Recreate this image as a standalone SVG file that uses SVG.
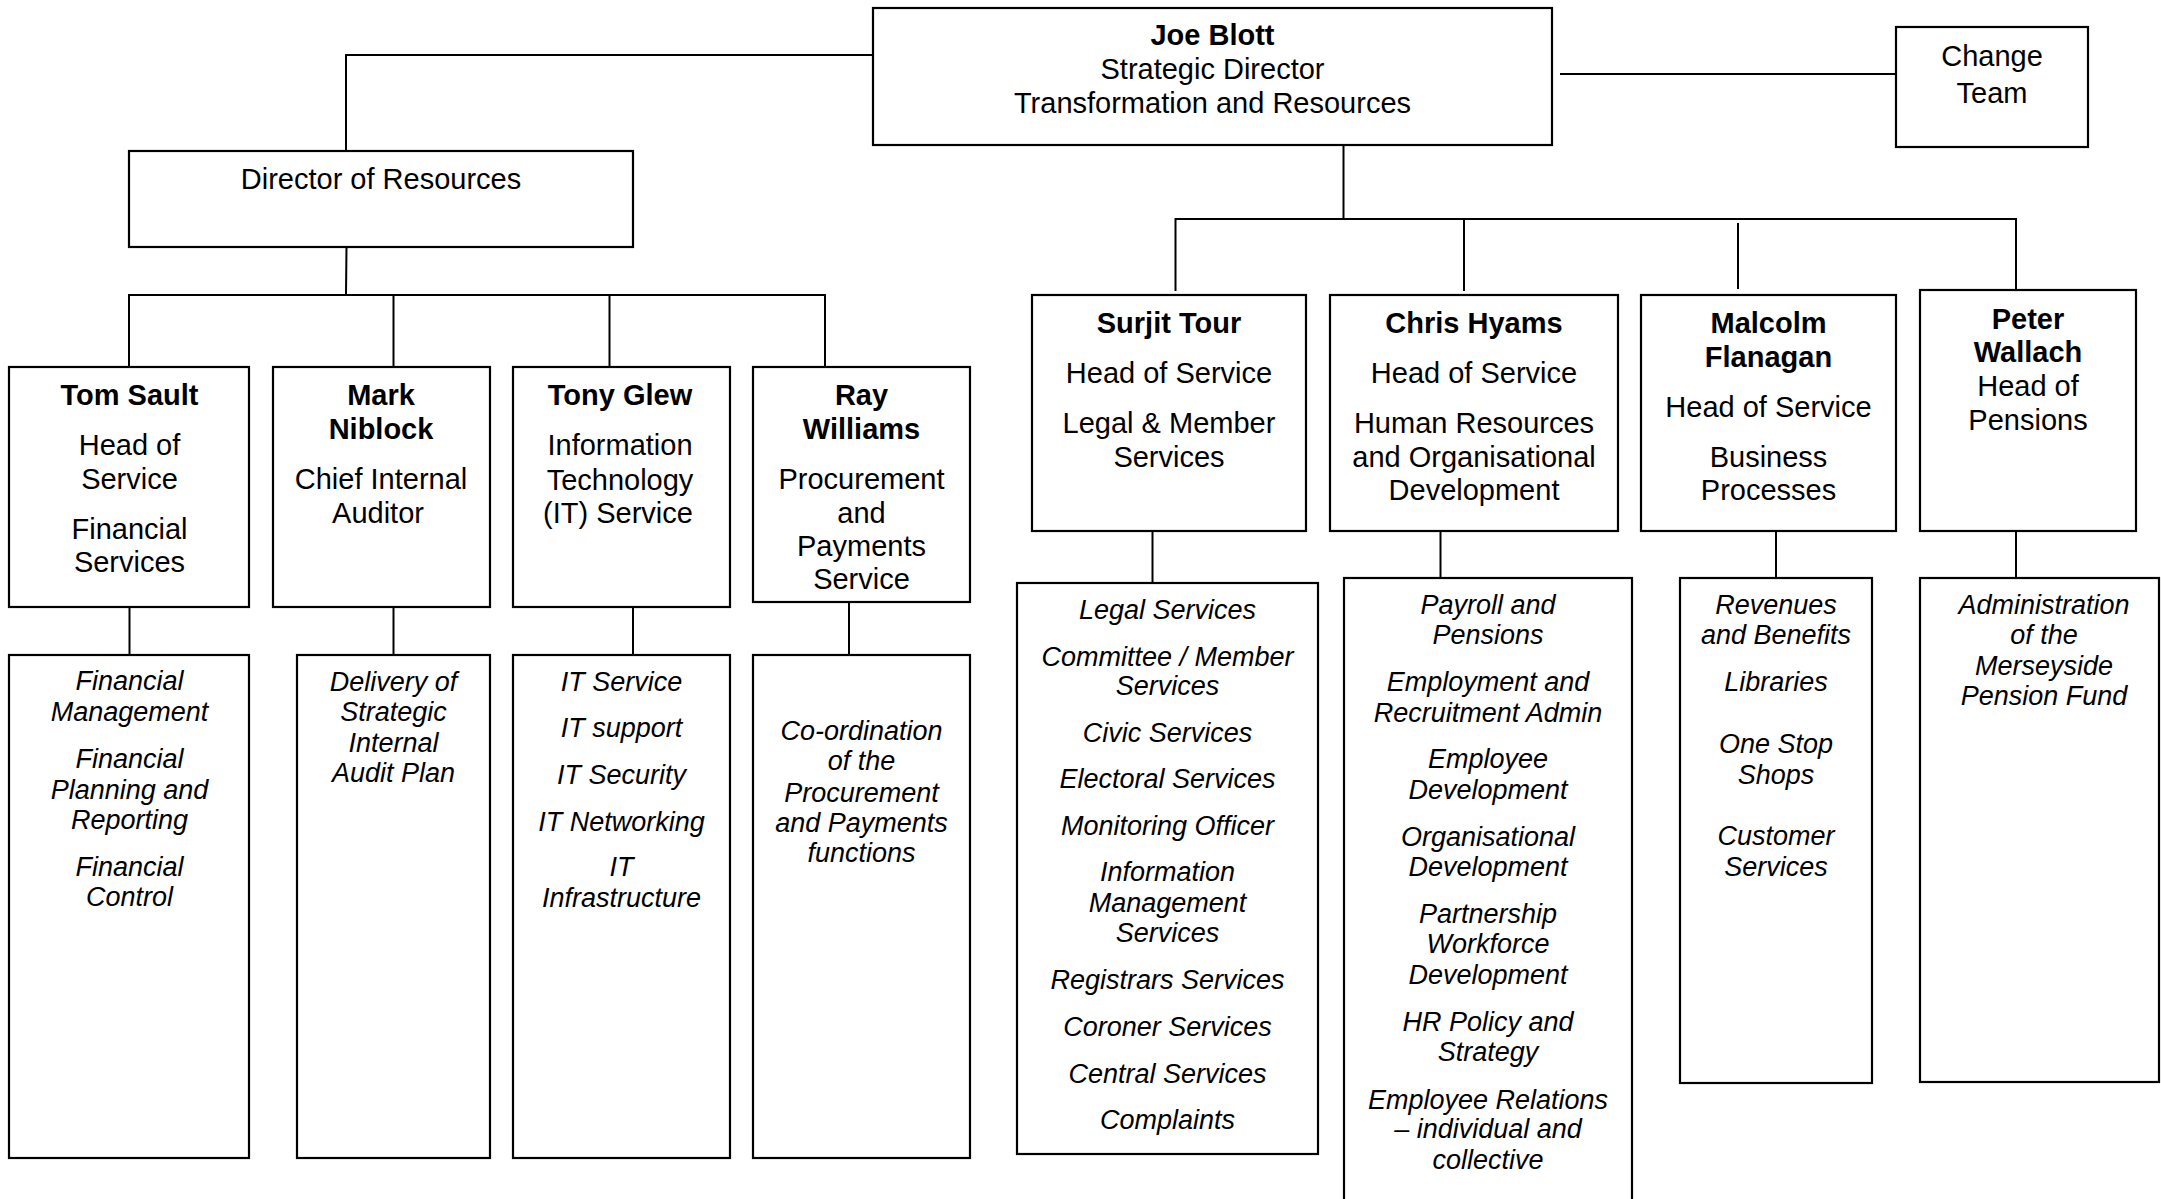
<svg xmlns="http://www.w3.org/2000/svg" width="2161" height="1199" viewBox="0 0 2161 1199">
<style>
.box{fill:#fff;stroke:#000;stroke-width:2.2}
.ln{fill:none;stroke:#000;stroke-width:2}
text{font-family:"Liberation Sans",Arial,sans-serif;font-size:29px;text-anchor:middle;fill:#000}
.b{font-weight:bold}
.i{font-style:italic;font-size:27px}
</style>
<rect width="2161" height="1199" fill="#fff"/>
<g id="connectors">
<polyline class="ln" points="873,55 346,55 346,151"/>
<line class="ln" x1="1560" y1="74" x2="1896" y2="74"/>
<line class="ln" x1="346.5" y1="247" x2="346" y2="295"/>
<polyline class="ln" points="129,367 129,295 825,295 825,367"/>
<line class="ln" x1="393.5" y1="295" x2="393.5" y2="367"/>
<line class="ln" x1="609.5" y1="295" x2="609.5" y2="367"/>
<line class="ln" x1="1343.5" y1="146" x2="1343.5" y2="219"/>
<polyline class="ln" points="1175.5,291 1175.5,219 2016,219 2016,290"/>
<line class="ln" x1="1464" y1="219" x2="1464" y2="291"/>
<line class="ln" x1="1738" y1="223" x2="1738" y2="289"/>
<line class="ln" x1="129.5" y1="607" x2="129.5" y2="655"/>
<line class="ln" x1="393.5" y1="607" x2="393.5" y2="655"/>
<line class="ln" x1="633" y1="607" x2="633" y2="655"/>
<line class="ln" x1="849" y1="602" x2="849" y2="655"/>
<line class="ln" x1="1152.5" y1="531" x2="1152.5" y2="583"/>
<line class="ln" x1="1440.5" y1="531" x2="1440.5" y2="578"/>
<line class="ln" x1="1776" y1="531" x2="1776" y2="578"/>
<line class="ln" x1="2016" y1="531" x2="2016" y2="578"/>
</g>
<g id="joe-blott">
<rect class="box" x="873" y="8" width="679" height="137"/>
<text x="1212.5" y="45" class="b">Joe Blott</text>
<text x="1212.5" y="79">Strategic Director</text>
<text x="1212.5" y="113">Transformation and Resources</text>
</g>
<g id="change-team">
<rect class="box" x="1896" y="27" width="192" height="120"/>
<text x="1992" y="66">Change</text>
<text x="1992" y="103">Team</text>
</g>
<g id="director-resources">
<rect class="box" x="129" y="151" width="504" height="96"/>
<text x="381" y="189">Director of Resources</text>
</g>
<g id="tom-sault">
<rect class="box" x="9" y="367" width="240" height="240"/>
<text x="129.5" y="405" class="b">Tom Sault</text>
<text x="129.5" y="455">Head of</text>
<text x="129.5" y="489">Service</text>
<text x="129.5" y="539">Financial</text>
<text x="129.5" y="572">Services</text>
</g>
<g id="mark-niblock">
<rect class="box" x="273" y="367" width="217" height="240"/>
<text x="381" y="405" class="b">Mark</text>
<text x="381" y="439" class="b">Niblock</text>
<text x="381" y="489">Chief Internal</text>
<text x="378" y="523">Auditor</text>
</g>
<g id="tony-glew">
<rect class="box" x="513" y="367" width="217" height="240"/>
<text x="620" y="405" class="b">Tony Glew</text>
<text x="620" y="455">Information</text>
<text x="620" y="490">Technology</text>
<text x="618" y="523">(IT) Service</text>
</g>
<g id="ray-williams">
<rect class="box" x="753" y="367" width="217" height="235"/>
<text x="861.5" y="405" class="b">Ray</text>
<text x="861.5" y="439" class="b">Williams</text>
<text x="861.5" y="489">Procurement</text>
<text x="861.5" y="523">and</text>
<text x="861.5" y="556">Payments</text>
<text x="861.5" y="589">Service</text>
</g>
<g id="surjit-tour">
<rect class="box" x="1032" y="295" width="274" height="236"/>
<text x="1169" y="333" class="b">Surjit Tour</text>
<text x="1169" y="383">Head of Service</text>
<text x="1169" y="433">Legal &amp; Member</text>
<text x="1169" y="467">Services</text>
</g>
<g id="chris-hyams">
<rect class="box" x="1330" y="295" width="288" height="236"/>
<text x="1474" y="333" class="b">Chris Hyams</text>
<text x="1474" y="383">Head of Service</text>
<text x="1474" y="433">Human Resources</text>
<text x="1474" y="467">and Organisational</text>
<text x="1474" y="500">Development</text>
</g>
<g id="malcolm-flanagan">
<rect class="box" x="1641" y="295" width="255" height="236"/>
<text x="1768.5" y="333" class="b">Malcolm</text>
<text x="1768.5" y="367" class="b">Flanagan</text>
<text x="1768.5" y="417">Head of Service</text>
<text x="1768.5" y="467">Business</text>
<text x="1768.5" y="500">Processes</text>
</g>
<g id="peter-wallach">
<rect class="box" x="1920" y="290" width="216" height="241"/>
<text x="2028" y="329" class="b">Peter</text>
<text x="2028" y="362" class="b">Wallach</text>
<text x="2028" y="396">Head of</text>
<text x="2028" y="430">Pensions</text>
</g>
<g id="financial-services-functions">
<rect class="box" x="9" y="655" width="240" height="503"/>
<text class="i" x="129.5" y="690">Financial</text>
<text class="i" x="129.5" y="721">Management</text>
<text class="i" x="129.5" y="768">Financial</text>
<text class="i" x="129.5" y="799">Planning and</text>
<text class="i" x="129.5" y="829">Reporting</text>
<text class="i" x="129.5" y="876">Financial</text>
<text class="i" x="129.5" y="906">Control</text>
</g>
<g id="internal-audit-functions">
<rect class="box" x="297" y="655" width="193" height="503"/>
<text class="i" x="393.5" y="691">Delivery of</text>
<text class="i" x="393.5" y="721">Strategic</text>
<text class="i" x="393.5" y="752">Internal</text>
<text class="i" x="393.5" y="782">Audit Plan</text>
</g>
<g id="it-functions">
<rect class="box" x="513" y="655" width="217" height="503"/>
<text class="i" x="621.5" y="691">IT Service</text>
<text class="i" x="621.5" y="737">IT support</text>
<text class="i" x="621.5" y="784">IT Security</text>
<text class="i" x="621.5" y="831">IT Networking</text>
<text class="i" x="621.5" y="876">IT</text>
<text class="i" x="621.5" y="907">Infrastructure</text>
</g>
<g id="procurement-functions">
<rect class="box" x="753" y="655" width="217" height="503"/>
<text class="i" x="861.5" y="740">Co-ordination</text>
<text class="i" x="861.5" y="770">of the</text>
<text class="i" x="861.5" y="802">Procurement</text>
<text class="i" x="861.5" y="832">and Payments</text>
<text class="i" x="861.5" y="862">functions</text>
</g>
<g id="legal-member-functions">
<rect class="box" x="1017" y="583" width="301" height="571"/>
<text class="i" x="1167.5" y="619">Legal Services</text>
<text class="i" x="1167.5" y="666">Committee / Member</text>
<text class="i" x="1167.5" y="695">Services</text>
<text class="i" x="1167.5" y="742">Civic Services</text>
<text class="i" x="1167.5" y="788">Electoral Services</text>
<text class="i" x="1167.5" y="835">Monitoring Officer</text>
<text class="i" x="1167.5" y="881">Information</text>
<text class="i" x="1167.5" y="912">Management</text>
<text class="i" x="1167.5" y="942">Services</text>
<text class="i" x="1167.5" y="989">Registrars Services</text>
<text class="i" x="1167.5" y="1036">Coroner Services</text>
<text class="i" x="1167.5" y="1083">Central Services</text>
<text class="i" x="1167.5" y="1129">Complaints</text>
</g>
<g id="hr-functions">
<rect class="box" x="1344" y="578" width="288" height="640"/>
<text class="i" x="1488" y="614">Payroll and</text>
<text class="i" x="1488" y="644">Pensions</text>
<text class="i" x="1488" y="691">Employment and</text>
<text class="i" x="1488" y="722">Recruitment Admin</text>
<text class="i" x="1488" y="768">Employee</text>
<text class="i" x="1488" y="799">Development</text>
<text class="i" x="1488" y="846">Organisational</text>
<text class="i" x="1488" y="876">Development</text>
<text class="i" x="1488" y="923">Partnership</text>
<text class="i" x="1488" y="953">Workforce</text>
<text class="i" x="1488" y="984">Development</text>
<text class="i" x="1488" y="1031">HR Policy and</text>
<text class="i" x="1488" y="1061">Strategy</text>
<text class="i" x="1488" y="1109">Employee Relations</text>
<text class="i" x="1488" y="1138">– individual and</text>
<text class="i" x="1488" y="1169">collective</text>
</g>
<g id="business-processes-functions">
<rect class="box" x="1680" y="578" width="192" height="505"/>
<text class="i" x="1776" y="614">Revenues</text>
<text class="i" x="1776" y="644">and Benefits</text>
<text class="i" x="1776" y="691">Libraries</text>
<text class="i" x="1776" y="753">One Stop</text>
<text class="i" x="1776" y="784">Shops</text>
<text class="i" x="1776" y="845">Customer</text>
<text class="i" x="1776" y="876">Services</text>
</g>
<g id="pensions-functions">
<rect class="box" x="1920" y="578" width="239" height="504"/>
<text class="i" x="2044" y="614">Administration</text>
<text class="i" x="2044" y="644">of the</text>
<text class="i" x="2044" y="675">Merseyside</text>
<text class="i" x="2044" y="705">Pension Fund</text>
</g>
</svg>
